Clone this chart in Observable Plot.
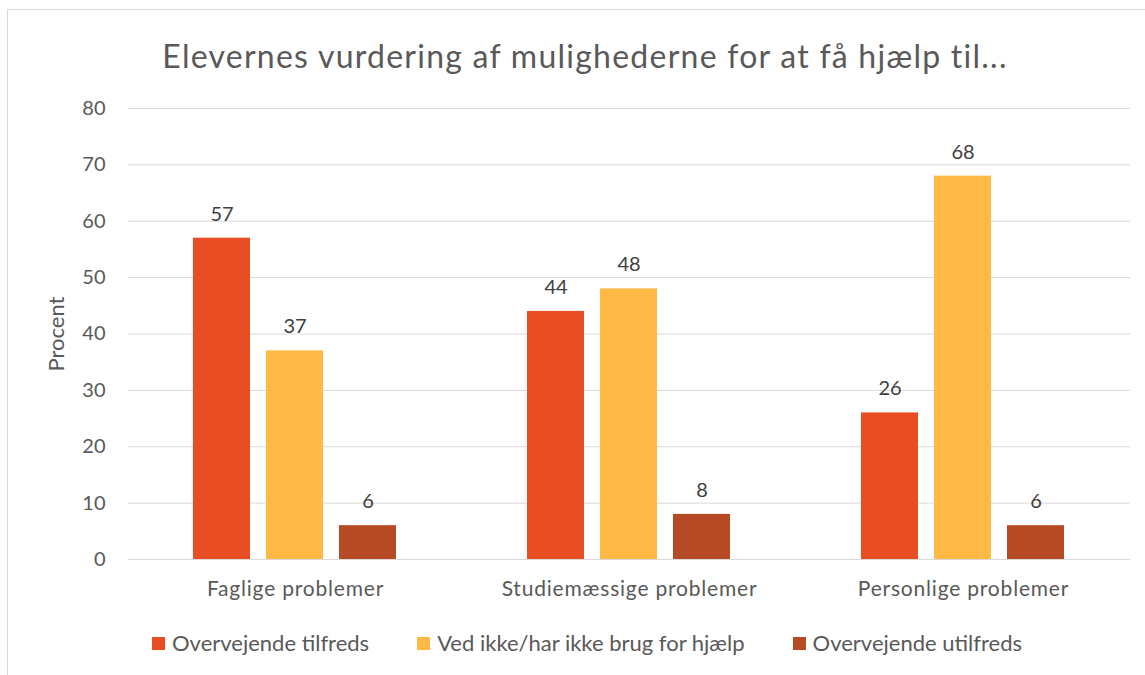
<!DOCTYPE html>
<html><head><meta charset="utf-8">
<script src="https://cdn.jsdelivr.net/npm/d3@7"></script>
<script src="https://cdn.jsdelivr.net/npm/@observablehq/plot@0.6"></script>
<style>
body{margin:0;background:#fff;overflow:hidden;font-family:Lato,sans-serif;}
#wrap{position:relative;width:1145px;height:675px;overflow:hidden;}
#frame{position:absolute;left:7px;top:9px;width:1200px;height:700px;border:1.5px solid #d9d9d9;}
#title{position:absolute;left:0;width:1170px;top:36px;text-align:center;font-size:32px;letter-spacing:1.25px;color:#595959;line-height:40px;}
#chart{position:absolute;left:0;top:90px;}
#chart g[aria-label="fx-axis tick label"] text{letter-spacing:0.8px;}
#legend{position:absolute;top:629px;left:0;width:1174px;display:flex;justify-content:center;gap:48px;font-size:22px;color:#595959;line-height:28px;}
#legend .item{display:flex;align-items:center;gap:7px;}
#legend .sw{width:13px;height:13px;display:inline-block;}
</style></head>
<body>
<div id="wrap">
<div id="frame"></div>
<div id="title">Elevernes vurdering af mulighederne for at få hjælp til...</div>
<div id="chart"></div>
<div id="legend"></div>
</div>
<script>
const categories = ["Faglige problemer", "Studiemæssige problemer", "Personlige problemer"];
const series = ["Overvejende tilfreds", "Ved ikke/har ikke brug for hjælp", "Overvejende utilfreds"];
const tilfreds = [57, 44, 26];
const vedIkke = [37, 48, 68];
const utilfreds = [6, 8, 6];
const colors = ["#E84D23", "#FFB944", "#B54A25"];
const yTicks = [0, 10, 20, 30, 40, 50, 60, 70, 80];
const yLabel = "Procent";

const valuesBySeries = [tilfreds, vedIkke, utilfreds];
const data = [];
categories.forEach((c, i) => {
  series.forEach((s, j) => data.push({category: c, series: s, value: valuesBySeries[j][i]}));
});

const chart = Plot.plot({
  width: 1145,
  height: 519,
  marginLeft: 128,
  marginRight: 15,
  marginTop: 18,
  marginBottom: 50,
  style: {fontFamily: "Lato, sans-serif", color: "#595959", background: "transparent"},
  fx: {domain: categories, padding: 0, label: null, axis: null},
  x: {domain: series, axis: null, paddingInner: 0.216, paddingOuter: 0.865},
  y: {domain: [0, 80], axis: null},
  color: {domain: series, range: colors},
  marks: [
    Plot.gridY(yTicks, {stroke: "#d9d9d9", strokeOpacity: 1, strokeWidth: 1}),
    Plot.axisY(yTicks, {tickSize: 0, tickPadding: 23, fontSize: 20, label: null}),
    Plot.axisY(yTicks, {tickSize: 0, tickFormat: () => "", fontSize: 22, label: yLabel, labelAnchor: "center", labelOffset: 80, labelArrow: "none"}),
    Plot.axisFx({anchor: "bottom", tickSize: 0, tickPadding: 22, fontSize: 21, label: null}),
    Plot.barY(data, {fx: "category", x: "series", y: "value", fill: "series"}),
    Plot.text(data, {fx: "category", x: "series", y: "value", text: d => String(d.value), dy: -24, fontSize: 20, fill: "#404040"})
  ]
});
document.getElementById("chart").appendChild(chart);

const legend = document.getElementById("legend");
series.forEach((s, j) => {
  const item = document.createElement("div");
  item.className = "item";
  const sw = document.createElement("span");
  sw.className = "sw";
  sw.style.background = colors[j];
  const t = document.createElement("span");
  t.textContent = s;
  item.appendChild(sw);
  item.appendChild(t);
  legend.appendChild(item);
});
</script>
</body></html>
